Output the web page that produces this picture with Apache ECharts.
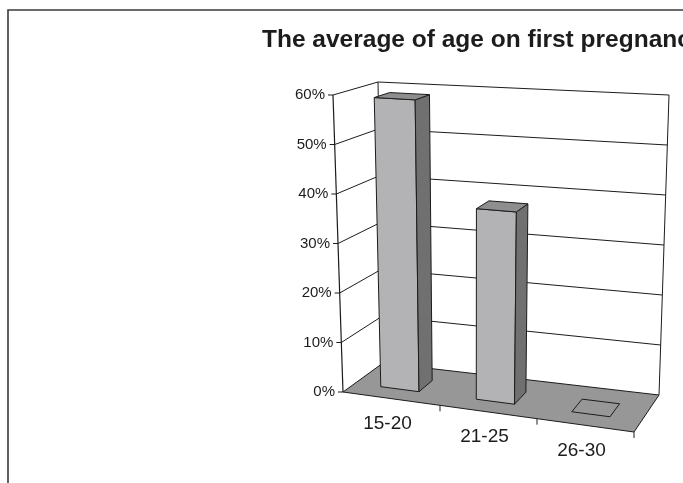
<!DOCTYPE html>
<html>
<head>
<meta charset="utf-8">
<script src="https://cdn.jsdelivr.net/npm/echarts@6/dist/echarts.min.js"></script>
<style>
  html, body { margin: 0; padding: 0; background: #ffffff; }
  #chart { width: 683px; height: 483px; }
</style>
</head>
<body>
<div id="chart"></div>
<script>
// Data
const titleText = 'The average of age on first pregnancy';
const categories = ['15-20', '21-25', '26-30'];
const shares = [0.59, 0.38, 0];
const valueTicks = [0, 0.1, 0.2, 0.3, 0.4, 0.5, 0.6];
const tickLabels = ['0%', '10%', '20%', '30%', '40%', '50%', '60%'];

// Screen corners of the 3D plot box (f/b = front/back, l/r = left/right, b/t = bottom/top)
const box = {
  flb: [343, 392], frb: [634, 432], blb: [383, 363], brb: [659, 395],
  flt: [333, 95],  frt: [647, 114], blt: [378, 82],  brt: [669, 95]
};

const FONT = "'Liberation Sans', Arial, sans-serif";
const INK = '#1c1c1c';
const FLOOR = '#979797';
const BAR_FRONT = '#b3b3b5';
const BAR_SIDE = '#707070';
const BAR_TOP = '#8e8e8e';

function lerp(a, b, t) {
  return [a[0] + (b[0] - a[0]) * t, a[1] + (b[1] - a[1]) * t];
}
// u: position along categories (0..1), w: depth (0 front .. 1 back), h: height (0..1)
function project(u, w, h) {
  const bottom = lerp(lerp(box.flb, box.frb, u), lerp(box.blb, box.brb, u), w);
  const top = lerp(lerp(box.flt, box.frt, u), lerp(box.blt, box.brt, u), w);
  return lerp(bottom, top, h);
}
// Convert a data point to normalised (u, h) using the grid's own scales
function toUnit(params, api, catIndex, value) {
  const cs = params.coordSys;
  const p = api.coord([catIndex, value]);
  return {
    u: (p[0] - cs.x) / cs.width,
    h: (cs.y + cs.height - p[1]) / cs.height,
    band: api.size([1, 0])[0] / cs.width
  };
}

const chart = echarts.init(document.getElementById('chart'), null, { renderer: 'canvas' });

const option = {
  animation: false,
  backgroundColor: '#ffffff',
  title: {
    text: titleText,
    left: 257,
    top: 23,
    textStyle: { fontFamily: FONT, fontSize: 24.5, fontWeight: 'bold', color: INK }
  },
  graphic: [
    { type: 'polyline', shape: { points: [[8, 483], [8, 10], [683, 10]] },
      style: { stroke: '#3a3a3a', lineWidth: 1.6, fill: null }, silent: true }
  ],
  grid: { left: 100, top: 100, width: 300, height: 300 },
  xAxis: { type: 'category', data: categories, show: false },
  yAxis: { type: 'value', min: 0, max: 0.6, interval: 0.1, show: false },
  series: [
    {
      // Walls: gridlines, value axis ticks and labels
      type: 'custom',
      clip: false,
      z: 1,
      data: valueTicks.map(v => [0, v]),
      renderItem: function (params, api) {
        const v = api.value(1);
        const h = toUnit(params, api, 0, v).h;
        const fl = project(0, 0, h), bl = project(0, 1, h), br = project(1, 1, h);
        const children = [];
        if (v > 0) {
          children.push({ type: 'polyline', shape: { points: [fl, bl, br] },
            style: { stroke: INK, lineWidth: 1, fill: null } });
        }
        children.push({ type: 'line', shape: { x1: fl[0] - 5, y1: fl[1], x2: fl[0], y2: fl[1] },
          style: { stroke: INK, lineWidth: 1 } });
        children.push({ type: 'text', x: fl[0] - 8, y: fl[1],
          style: { text: tickLabels[params.dataIndex], fontFamily: FONT, fontSize: 15,
                   fill: INK, align: 'right', verticalAlign: 'middle' } });
        if (params.dataIndex === 0) {
          // floor and vertical edges
          children.push({ type: 'polygon', shape: { points: [project(0,0,0), project(1,0,0), project(1,1,0), project(0,1,0)] },
            style: { fill: FLOOR, stroke: INK, lineWidth: 1 } });
          children.push({ type: 'line', shape: { x1: project(0,0,0)[0], y1: project(0,0,0)[1], x2: project(0,0,1)[0], y2: project(0,0,1)[1] },
            style: { stroke: INK, lineWidth: 1.2 } });
          children.push({ type: 'line', shape: { x1: project(0,1,0)[0], y1: project(0,1,0)[1], x2: project(0,1,1)[0], y2: project(0,1,1)[1] },
            style: { stroke: INK, lineWidth: 1 } });
          children.push({ type: 'line', shape: { x1: project(1,1,0)[0], y1: project(1,1,0)[1], x2: project(1,1,1)[0], y2: project(1,1,1)[1] },
            style: { stroke: INK, lineWidth: 1 } });
        }
        return { type: 'group', children: children };
      }
    },
    {
      // Category ticks and labels along the front edge of the floor
      type: 'custom',
      clip: false,
      z: 2,
      data: categories.map((c, i) => [i, 0]),
      renderItem: function (params, api) {
        const i = api.value(0);
        const t = toUnit(params, api, i, 0);
        const tickU = t.u + t.band / 2;
        const tp = project(tickU, 0, 0);
        const lp = project(t.u, 0, 0);
        return { type: 'group', children: [
          { type: 'line', shape: { x1: tp[0], y1: tp[1], x2: tp[0], y2: tp[1] + 6 },
            style: { stroke: INK, lineWidth: 1 } },
          { type: 'text', x: lp[0] - 4, y: lp[1] + 25,
            style: { text: categories[i], fontFamily: FONT, fontSize: 19, fill: INK,
                     align: 'center', verticalAlign: 'middle' } }
        ] };
      }
    },
    {
      // 3D columns
      type: 'custom',
      clip: false,
      z: 3,
      data: shares.map((v, i) => [i, v]),
      renderItem: function (params, api) {
        const i = api.value(0), v = api.value(1);
        const t = toUnit(params, api, i, v);
        const half = t.band * 0.2;
        const u0 = t.u - half - t.band * 0.03, u1 = t.u + half - t.band * 0.03;
        const w0 = 0.3, w1 = 0.66;
        const h = t.h;
        const line = { stroke: INK, lineWidth: 1 };
        const topFace = { type: 'polygon',
          shape: { points: [project(u0,w0,h), project(u1,w0,h), project(u1,w1,h), project(u0,w1,h)] },
          style: Object.assign({ fill: h > 0 ? BAR_TOP : FLOOR }, line) };
        if (h <= 0) return topFace;
        return { type: 'group', children: [
          { type: 'polygon',
            shape: { points: [project(u0,w0,0), project(u1,w0,0), project(u1,w0,h), project(u0,w0,h)] },
            style: Object.assign({ fill: BAR_FRONT }, line) },
          { type: 'polygon',
            shape: { points: [project(u1,w0,0), project(u1,w1,0), project(u1,w1,h), project(u1,w0,h)] },
            style: Object.assign({ fill: BAR_SIDE }, line) },
          topFace
        ] };
      }
    }
  ]
};

chart.setOption(option);
</script>
</body>
</html>
